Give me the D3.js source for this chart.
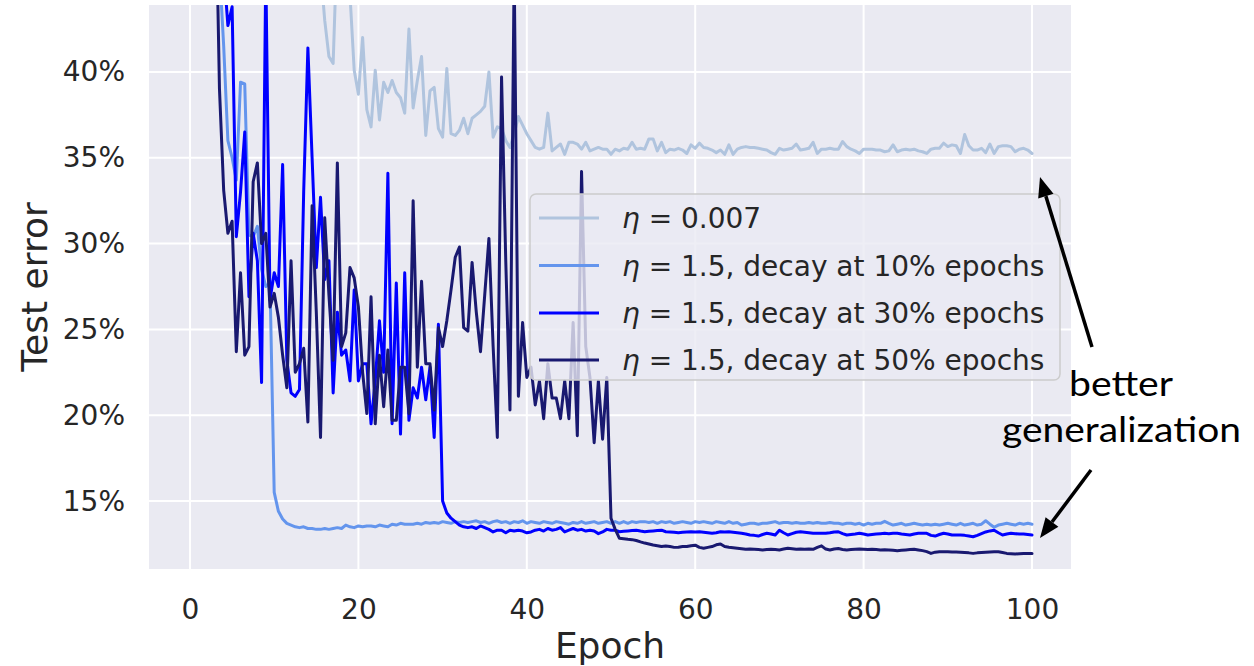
<!DOCTYPE html>
<html><head><meta charset="utf-8">
<script src="https://cdn.jsdelivr.net/npm/d3@7"></script>
<style>body{margin:0;background:#fff;} svg{display:block;}</style>
</head><body>
<svg id="chart" width="1254" height="666"></svg>
<script>
// ---------- data (test error in %, one value every half epoch, epoch 0 .. 100) ----------
const epochStep = 0.5;
const xTicks = [0, 20, 40, 60, 80, 100];
const yTicks = [15, 20, 25, 30, 35, 40];
const seriesLabels = ["η = 0.007", "η = 1.5, decay at 10% epochs", "η = 1.5, decay at 30% epochs", "η = 1.5, decay at 50% epochs"];
const seriesColors = ["#b0c4de", "#6495ed", "#0000ff", "#191970"];

const lr007 = [
 90, 85, 80, 76, 72, 69, 66, 63, 61, 59,
 57, 56, 54, 53, 52, 51, 50.5, 50, 49, 49.5,
 48.5, 48, 48.5, 47.5, 47, 47.5, 46.5, 46, 46.5, 45.5,
 46, 46, 43, 40.9, 40.5, 48, 49, 47, 44.5, 40.1,
 38.7, 42, 37.8, 36.8, 40.1, 37.2, 39.4, 38.8, 39.5, 38.8,
 38.5, 37.6, 42.5, 37.9, 39.5, 40.9, 36.3, 38.9, 39.1, 36.7,
 36.2, 40.2, 36.4, 36.3, 36.6, 37.3, 36.4, 37.3, 37.5, 37.7,
 38, 40, 36.2, 36.8, 36.7, 36, 35.6, 36.4, 37.4, 36.9,
 36.4, 36, 35.6, 35.5, 35.6, 37.6, 35.4, 35.6, 35.8, 35.2,
 35.9, 35.9, 35.8, 35.5, 35.9, 35.4, 35.5, 35.6, 35.5, 35.5,
 35.2,
 35.5, 35.4, 35.55, 35.5, 35.9, 35.5, 35.55, 35.5, 36.1, 36.1,
 35.4, 35.9, 35.3, 35.5, 35.45, 35.55, 35.45, 35.25, 35.75, 35.55,
 35.85, 35.6, 35.55, 35.45, 35.3, 35.45, 35.2, 35.75, 35.2, 35.5,
 35.6, 35.65, 35.6, 35.6, 35.55, 35.5, 35.45, 35.3, 35.2, 35.55,
 35.45, 35.5, 35.55, 35.8, 35.45, 35.5, 35.55, 35.9, 35.25, 35.5,
 35.5, 35.55, 35.5, 35.5, 35.95, 35.65, 35.5, 35.4, 35.25, 35.5,
 35.5, 35.5, 35.45, 35.45, 35.35, 35.4, 35.75, 35.35, 35.45, 35.5,
 35.45, 35.5, 35.4, 35.35, 35.25, 35.5, 35.55, 35.55, 35.85, 35.65,
 35.75, 35.7, 35.25, 36.35, 35.7, 35.45, 35.45, 35.55, 35.3, 35.8,
 35.25, 35.65, 35.7, 35.7, 35.65, 35.35, 35.5, 35.55, 35.45, 35.25
];

const decay10 = [
 90, 85, 80, 72, 65, 58, 52, 46, 41.5, 36,
 35, 33.7, 39.4, 39.3, 30.5, 30.4, 31, 28.5, 27.5, 27.7,
 15.5, 14.4, 13.95, 13.7, 13.6, 13.5, 13.45, 13.5, 13.4, 13.4,
 13.35, 13.35, 13.4, 13.35, 13.4, 13.45, 13.4, 13.6, 13.5, 13.45,
 13.55, 13.5, 13.55, 13.55, 13.5, 13.6, 13.55, 13.5, 13.65, 13.6,
 13.7, 13.65, 13.65, 13.65, 13.7, 13.65, 13.75, 13.7, 13.75, 13.7,
 13.8, 13.75, 13.7, 13.8, 13.75, 13.8, 13.75, 13.8, 13.85, 13.75,
 13.8, 13.7, 13.8, 13.85, 13.75, 13.8, 13.7, 13.8, 13.75, 13.85,
 13.7, 13.8, 13.75, 13.7, 13.8, 13.75, 13.7, 13.8, 13.75, 13.7,
 13.65, 13.75, 13.7, 13.8, 13.7, 13.75, 13.8, 13.7, 13.75, 13.8,
 13.7,
 13.8, 13.7, 13.8, 13.7, 13.8, 13.75, 13.8, 13.8, 13.75, 13.8,
 13.7, 13.8, 13.75, 13.8, 13.7, 13.75, 13.8, 13.75, 13.7, 13.8,
 13.75, 13.8, 13.75, 13.7, 13.8, 13.75, 13.7, 13.8, 13.7, 13.75,
 13.6, 13.65, 13.7, 13.7, 13.65, 13.7, 13.7, 13.75, 13.8, 13.7,
 13.75, 13.75, 13.7, 13.75, 13.7, 13.7, 13.75, 13.7, 13.75, 13.7,
 13.7, 13.75, 13.7, 13.7, 13.65, 13.7, 13.7, 13.65, 13.7, 13.6,
 13.7, 13.65, 13.7, 13.7, 13.82, 13.7, 13.6, 13.65, 13.7, 13.6,
 13.65, 13.7, 13.65, 13.6, 13.65, 13.6, 13.65, 13.6, 13.65, 13.7,
 13.65, 13.6, 13.7, 13.6, 13.65, 13.7, 13.6, 13.65, 13.85, 13.65,
 13.47, 13.6, 13.65, 13.7, 13.65, 13.6, 13.7, 13.65, 13.7, 13.65
];

const decay30 = [
 90, 85, 80, 72, 65, 58, 52, 48, 46, 42.7,
 43.8, 30.4, 33, 36.5, 26.9, 30.6, 29, 21.9, 46, 26.7,
 28.3, 27.5, 34.6, 23.2, 21.3, 21.1, 21.5, 33, 41.4, 35,
 28.6, 32.7, 27.9, 29, 21.3, 26, 23.5, 23.8, 22, 27.3,
 22, 23, 23, 19.5, 22, 25.5, 22.5, 34.1, 19.5, 27.7,
 18.9, 28.3, 19.7, 21.6, 21, 22.8, 20.9, 22.8, 18.7, 25.3,
 15.0, 14.3, 14.0, 13.8, 13.6, 13.5, 13.45, 13.5, 13.4, 13.55,
 13.45, 13.35, 13.2, 13.3, 13.3, 13.15, 13.3, 13.25, 13.3, 13.25,
 13.15, 13.2, 13.3, 13.35, 13.25, 13.4, 13.3, 13.35, 13.45, 13.2,
 13.3, 13.4, 13.3, 13.35, 13.25, 13.3, 13.25, 13.1, 13.2, 13.35,
 13.3,
 13.3, 13.21, 13.24, 13.26, 13.28, 13.3, 13.25, 13.21, 13.24, 13.26,
 13.28, 13.3, 13.21, 13.2, 13.18, 13.15, 13.18, 13.2, 13.21, 13.2,
 13.21, 13.18, 13.15, 13.12, 13.15, 13.21, 13.2, 13.21, 13.18, 13.15,
 13.12, 13.08, 13.02, 13.0, 12.96, 13.05, 13.12, 13.08, 13.02, 13.3,
 13.15, 13.02, 13.1, 13.18, 13.21, 13.18, 13.15, 13.12, 13.12, 13.12,
 13.12, 13.15, 13.2, 13.21, 13.1, 13.02, 13.05, 13.08, 13.12, 13.08,
 13.02, 13.05, 13.08, 13.1, 13.12, 13.1, 13.12, 13.12, 13.08, 13.05,
 13.02, 13.08, 13.12, 13.12, 13.12, 13.0, 12.96, 13.05, 13.12, 13.08,
 13.02, 13.02, 13.02, 13.0, 12.96, 12.92, 13.0, 13.1, 13.2, 13.26,
 13.3, 13.15, 13.02, 13.08, 13.12, 13.1, 13.08, 13.08, 13.05, 13.02
];

const decay50 = [
 90, 85, 80, 72, 65, 58, 52, 39, 33.1, 30.6,
 31.3, 23.7, 28.3, 23.5, 24, 33.6, 34.7, 30, 30.6, 26.3,
 27.1, 25.7, 23.5, 21.6, 29, 22.5, 23, 23.9, 19.6, 32.2,
 26, 18.7, 31.5, 27, 23.2, 34.7, 24, 24.8, 28.6, 28,
 26.3, 22.5, 20.1, 26.9, 19.5, 23.5, 20.5, 23.8, 19.7, 19.7,
 22.8, 22.8, 20.1, 32.5, 22.8, 27.8, 23, 23, 20.3, 25.1,
 24, 25.5, 27.3, 29.2, 29.8, 25.1, 24.9, 28.9, 26, 23.7,
 27, 30.3, 24, 18.7, 39.7, 29, 20.3, 46, 21.1, 25.4,
 22.2, 22.8, 20.6, 22, 19.8, 23, 21, 21, 19.8, 22,
 19.8, 25.4, 18.8, 34.2, 24, 22.2, 18.4, 22, 18.6, 22.2,
 14,
 13.35, 12.83, 12.8, 12.77, 12.75, 12.7, 12.62, 12.55, 12.5, 12.44,
 12.4, 12.35, 12.38, 12.35, 12.3, 12.31, 12.35, 12.35, 12.4, 12.43,
 12.3, 12.25, 12.3, 12.35, 12.45, 12.5, 12.35, 12.31, 12.28, 12.25,
 12.22, 12.19, 12.2, 12.19, 12.17, 12.15, 12.18, 12.19, 12.17, 12.15,
 12.2, 12.25, 12.22, 12.19, 12.2, 12.19, 12.2, 12.19, 12.3, 12.39,
 12.2, 12.15, 12.2, 12.23, 12.18, 12.15, 12.18, 12.19, 12.2, 12.19,
 12.17, 12.19, 12.17, 12.15, 12.16, 12.15, 12.13, 12.11, 12.13, 12.15,
 12.17, 12.19, 12.15, 12.11, 12.05, 11.95, 12.02, 12.05, 12.05, 12.05,
 12.03, 12.03, 12.02, 12.0, 11.98, 11.95, 11.98, 12.0, 12.02, 12.03,
 12.04, 12.05, 12.0, 11.95, 11.93, 11.91, 11.93, 11.95, 11.95, 11.95
];

const seriesValues = [lr007, decay10, decay30, decay50];
const annotationWords = ["better", "generalization"];

// ---------- layout ----------
const W = 1254, H = 666;
const plot = {left: 149, right: 1071, top: 5, bottom: 569};
const textColor = "#262626";
const tickFont = "'DejaVu Sans', sans-serif";

const svg = d3.select("#chart");
const x = d3.scaleLinear().domain([-4.87, 104.63]).range([plot.left, plot.right]);
const y = d3.scaleLinear().domain([11.04, 43.9]).range([plot.bottom, plot.top]);

svg.append("rect").attr("x", 0).attr("y", 0).attr("width", W).attr("height", H).attr("fill", "#fff");
svg.append("rect")
  .attr("x", plot.left).attr("y", plot.top)
  .attr("width", plot.right - plot.left).attr("height", plot.bottom - plot.top)
  .attr("fill", "#eaeaf2");

// grid
const grid = svg.append("g");
grid.selectAll("line.vx").data(xTicks).join("line")
  .attr("x1", d => x(d)).attr("x2", d => x(d))
  .attr("y1", plot.top).attr("y2", plot.bottom)
  .attr("stroke", "#fff").attr("stroke-width", 2);
grid.selectAll("line.hy").data(yTicks).join("line")
  .attr("x1", plot.left).attr("x2", plot.right)
  .attr("y1", d => y(d)).attr("y2", d => y(d))
  .attr("stroke", "#fff").attr("stroke-width", 2);

// clip
svg.append("defs").append("clipPath").attr("id", "clip")
  .append("rect").attr("x", plot.left).attr("y", plot.top)
  .attr("width", plot.right - plot.left).attr("height", plot.bottom - plot.top);

const line = d3.line().x((d, i) => x(i * epochStep)).y(d => y(d));
const linesG = svg.append("g").attr("clip-path", "url(#clip)");
seriesValues.forEach((vals, k) => {
  linesG.append("path").datum(vals)
    .attr("d", line)
    .attr("fill", "none")
    .attr("stroke", seriesColors[k])
    .attr("stroke-width", 3)
    .attr("stroke-linejoin", "round")
    .attr("stroke-linecap", "round");
});

// axes
const yAxis = svg.append("g").attr("transform", `translate(${plot.left},0)`)
  .call(d3.axisLeft(y).tickValues(yTicks).tickFormat(d => d + "%").tickSize(0).tickPadding(24));
yAxis.select(".domain").remove();
yAxis.selectAll("text").attr("font-family", tickFont).attr("font-size", 28).attr("fill", textColor);

const xAxis = svg.append("g").attr("transform", `translate(0,${plot.bottom})`)
  .call(d3.axisBottom(x).tickValues(xTicks).tickFormat(d3.format("d")).tickSize(0).tickPadding(30));
xAxis.select(".domain").remove();
xAxis.selectAll("text").attr("font-family", tickFont).attr("font-size", 28).attr("fill", textColor);

// axis titles
svg.append("text").attr("x", (plot.left + plot.right) / 2).attr("y", 658)
  .attr("text-anchor", "middle").attr("font-family", tickFont).attr("font-size", 36)
  .attr("fill", textColor).text("Epoch");
svg.append("text").attr("transform", `translate(47,${(plot.top + plot.bottom) / 2}) rotate(-90)`)
  .attr("text-anchor", "middle").attr("font-family", tickFont).attr("font-size", 36)
  .attr("fill", textColor).text("Test error");

// legend
const leg = svg.append("g");
leg.append("rect").attr("x", 530).attr("y", 194).attr("width", 530).attr("height", 186)
  .attr("rx", 6).attr("fill", "#eaeaf2").attr("fill-opacity", 0.8)
  .attr("stroke", "#cccccc").attr("stroke-width", 1.5);
const rowY = [218, 265.5, 313, 360];
seriesLabels.forEach((lab, k) => {
  leg.append("line").attr("x1", 539).attr("x2", 599).attr("y1", rowY[k]).attr("y2", rowY[k])
    .attr("stroke", seriesColors[k]).attr("stroke-width", 3);
  const t = leg.append("text").attr("x", 622).attr("y", rowY[k] + 10)
    .attr("font-family", tickFont).attr("font-size", 28).attr("fill", textColor);
  t.append("tspan").attr("font-style", "italic").text(lab.slice(0, 1));
  t.append("tspan").text(lab.slice(1));
});

// annotation
const ann = svg.append("g");
ann.append("text").attr("x", 1069).attr("y", 396).attr("font-family", "Lato, 'Open Sans', sans-serif")
  .attr("font-size", 35).attr("fill", "#000").attr("textLength", 104).attr("lengthAdjust", "spacingAndGlyphs")
  .text(annotationWords[0]);
ann.append("text").attr("x", 1002).attr("y", 442).attr("font-family", "Lato, 'Open Sans', sans-serif")
  .attr("font-size", 35).attr("fill", "#000").attr("textLength", 239).attr("lengthAdjust", "spacingAndGlyphs")
  .text(annotationWords[1]);

function arrow(x1, y1, x2, y2) {
  const ang = Math.atan2(y2 - y1, x2 - x1);
  const hl = 20, hw = 8;
  const bx = x2 - hl * Math.cos(ang), by = y2 - hl * Math.sin(ang);
  ann.append("line").attr("x1", x1).attr("y1", y1).attr("x2", bx).attr("y2", by)
    .attr("stroke", "#000").attr("stroke-width", 3.5);
  const px = -Math.sin(ang), py = Math.cos(ang);
  ann.append("path")
    .attr("d", `M${x2},${y2} L${bx + hw * px},${by + hw * py} L${bx - hw * px},${by - hw * py} Z`)
    .attr("fill", "#000");
}
arrow(1092, 347, 1040, 177);
arrow(1091, 470, 1040, 538);
</script>
</body></html>
